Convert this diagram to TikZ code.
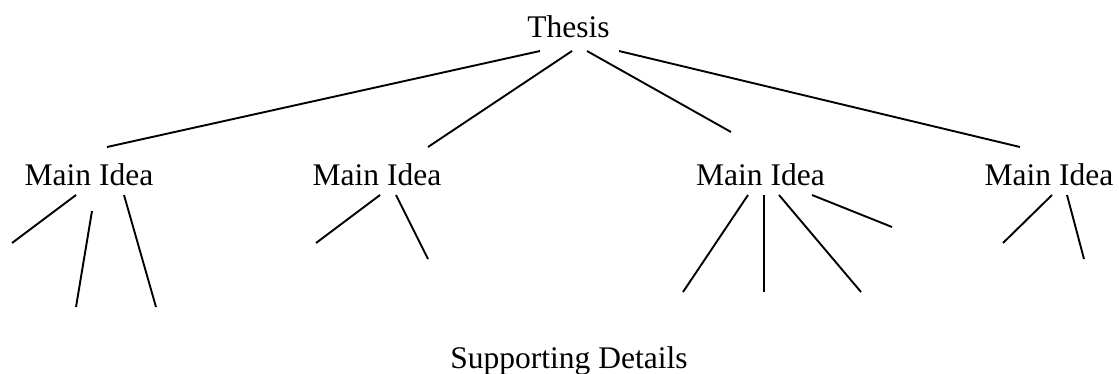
\documentclass[tikz,border=0pt]{standalone}
\usepackage{fontspec}
\setmainfont{Liberation Serif}
\begin{document}
\begin{tikzpicture}[x=1pt,y=-1pt,
  lbl/.style={anchor=base, inner sep=0pt, font=\fontsize{31.5}{36}\selectfont},
  conn/.style={line width=1.9pt}]
\useasboundingbox (0,0) rectangle (1119,373);
% texts
\node[lbl] (T) at (568.5,37) {Thesis};
\node[lbl] (M1) at (89,185) {Main Idea};
\node[lbl] (M2) at (377,185) {Main Idea};
\node[lbl] (M3) at (760.5,185) {Main Idea};
\node[lbl] (M4) at (1049,185) {Main Idea};
\node[lbl] (S) at (569,368) {Supporting Details};
% thesis connector ends
\coordinate (t1) at (540,51);
\coordinate (t2) at (572,51);
\coordinate (t3) at (587,51);
\coordinate (t4) at (619,51);
\coordinate (m1t) at (107,147);
\coordinate (m2t) at (428,147);
\coordinate (m3t) at (731,132);
\coordinate (m4t) at (1020,147);
\draw[conn] (t1) -- (m1t);
\draw[conn] (t2) -- (m2t);
\draw[conn] (t3) -- (m3t);
\draw[conn] (t4) -- (m4t);
% main idea 1
\coordinate (m1a) at (76,195);  \coordinate (d1a) at (12,243);
\coordinate (m1b) at (92,211);  \coordinate (d1b) at (76,307);
\coordinate (m1c) at (124,195); \coordinate (d1c) at (156,307);
\draw[conn] (m1a) -- (d1a);
\draw[conn] (m1b) -- (d1b);
\draw[conn] (m1c) -- (d1c);
% main idea 2
\coordinate (m2a) at (380,195); \coordinate (d2a) at (316,243);
\coordinate (m2b) at (396,195); \coordinate (d2b) at (428,259);
\draw[conn] (m2a) -- (d2a);
\draw[conn] (m2b) -- (d2b);
% main idea 3
\coordinate (m3a) at (748,195); \coordinate (d3a) at (683,292);
\coordinate (m3b) at (764,195); \coordinate (d3b) at (764,292);
\coordinate (m3c) at (779,195); \coordinate (d3c) at (861,292);
\coordinate (m3d) at (812,195); \coordinate (d3d) at (892,227);
\draw[conn] (m3a) -- (d3a);
\draw[conn] (m3b) -- (d3b);
\draw[conn] (m3c) -- (d3c);
\draw[conn] (m3d) -- (d3d);
% main idea 4
\coordinate (m4a) at (1052,195); \coordinate (d4a) at (1003,243);
\coordinate (m4b) at (1067,195); \coordinate (d4b) at (1084,259);
\draw[conn] (m4a) -- (d4a);
\draw[conn] (m4b) -- (d4b);
\end{tikzpicture}
\end{document}
